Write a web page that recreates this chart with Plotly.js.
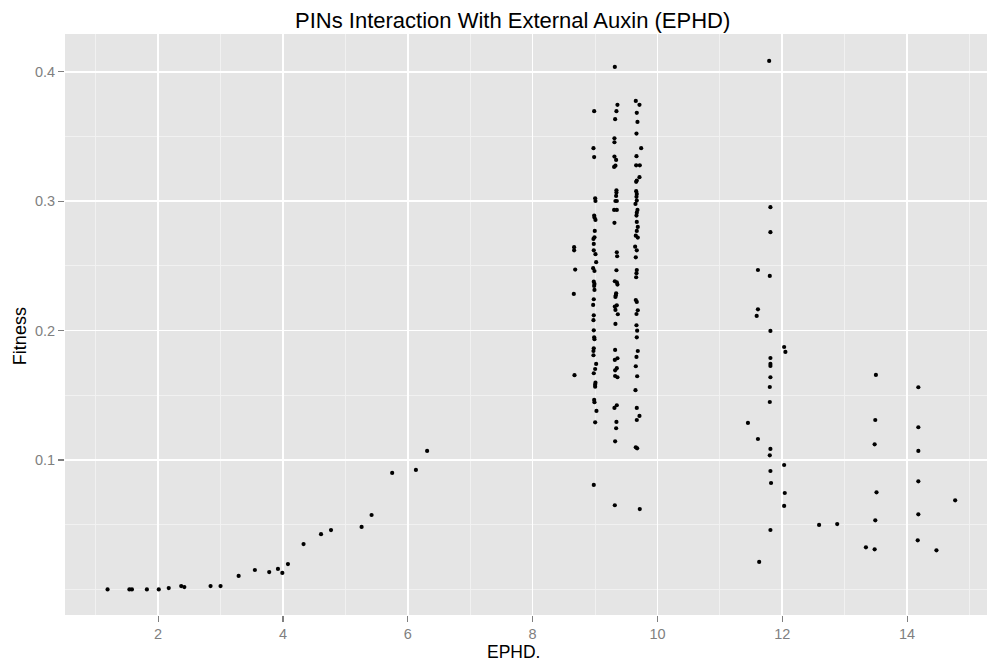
<!DOCTYPE html>
<html>
<head>
<meta charset="utf-8">
<script src="https://cdn.plot.ly/plotly-3.0.1.min.js"></script>
<style>html,body{margin:0;padding:0;background:#fff;}#chart{width:987px;height:664px;}</style>
</head>
<body>
<div id="chart"></div>
<script>
// Low-EPHD curve
const lowX = [1.19,1.54,1.58,1.82,2.01,2.17,2.37,2.42,2.84,3.00,3.29,3.55,3.78,3.92,3.99,4.08,4.33,4.61,4.77,5.26,5.42,5.75,6.13,6.31];
const lowY = [0.000,0.000,0.000,0.000,0.000,0.001,0.0026,0.0018,0.0026,0.0026,0.0104,0.015,0.0134,0.0158,0.0127,0.0196,0.035,0.0427,0.0458,0.0483,0.0575,0.090,0.0923,0.107];

// Column near 8.67
const c87X = [8.665,8.665,8.682,8.660,8.671];
const c87Y = [0.2644,0.2620,0.2471,0.2283,0.1655];

// Column near 9.0
const c90X = [8.986,8.975,8.986,9.002,9.007,8.986,8.991,9.007,8.996,8.991,8.975,8.980,8.980,9.007,9.018,8.970,8.991,8.980,8.991,8.986,8.991,8.980,8.970,8.980,8.975,8.980,8.986,8.991,8.980,8.975,8.975,9.018,9.002,8.980,9.007,9.002,9.002,8.986,8.991,9.023,9.002,8.980];
const c90Y = [0.3695,0.3409,0.3340,0.3022,0.3001,0.2888,0.2873,0.2855,0.2770,0.2721,0.2708,0.2669,0.2620,0.2590,0.2528,0.2482,0.2460,0.2378,0.2360,0.2345,0.2314,0.2242,0.2198,0.2118,0.2080,0.2002,0.1948,0.1933,0.1863,0.1842,0.1809,0.1742,0.1703,0.1670,0.1597,0.1582,0.1566,0.1464,0.1446,0.1379,0.1291,0.0807];

// Column near 9.33
const c93X = [9.317,9.359,9.343,9.322,9.311,9.311,9.311,9.338,9.327,9.306,9.343,9.343,9.338,9.327,9.349,9.306,9.349,9.311,9.349,9.354,9.343,9.317,9.349,9.359,9.338,9.333,9.327,9.349,9.317,9.327,9.365,9.327,9.322,9.359,9.317,9.349,9.322,9.322,9.359,9.349,9.311,9.343,9.338,9.322,9.317];
const c93Y = [0.4037,0.3744,0.3695,0.3633,0.3486,0.3455,0.3344,0.3318,0.3274,0.3264,0.3084,0.3066,0.3040,0.3001,0.3001,0.2932,0.2932,0.2832,0.2605,0.2574,0.2466,0.2381,0.2373,0.2355,0.2288,0.2273,0.2260,0.2195,0.2185,0.2159,0.2126,0.2051,0.1850,0.1786,0.1773,0.1709,0.1693,0.1649,0.1639,0.1423,0.1402,0.1294,0.1245,0.1144,0.0650];

// Column near 9.66
const c97X = [9.653,9.712,9.669,9.680,9.664,9.739,9.664,9.659,9.717,9.712,9.669,9.659,9.659,9.669,9.664,9.669,9.648,9.680,9.669,9.664,9.669,9.685,9.669,9.653,9.685,9.643,9.669,9.653,9.669,9.664,9.659,9.653,9.669,9.685,9.664,9.664,9.675,9.669,9.685,9.664,9.653,9.675,9.648,9.669,9.712,9.669,9.653,9.675,9.717];
const c97Y = [0.3774,0.3744,0.3682,0.3612,0.3522,0.3409,0.3347,0.3277,0.3277,0.3185,0.3159,0.3149,0.3077,0.3056,0.3033,0.3004,0.2978,0.2932,0.2911,0.2888,0.2839,0.2801,0.2770,0.2733,0.2718,0.2648,0.2620,0.2566,0.2468,0.2443,0.2412,0.2236,0.2221,0.2157,0.2128,0.2041,0.1999,0.1948,0.1842,0.1796,0.1724,0.1647,0.1539,0.1402,0.1340,0.1309,0.1098,0.1090,0.0621];

// Around 11.5 - 12.9
const c118X = [11.79,11.81,11.81,11.61,11.80,11.61,11.59,11.81,12.03,12.05,11.81,11.81,11.81,11.81,11.80,11.80,11.45,11.61,11.81,11.80,12.03,11.81,11.82,12.04,12.03,12.59,12.88,11.81,11.63];
const c118Y = [0.4083,0.2953,0.2760,0.2468,0.2422,0.2164,0.2113,0.1997,0.1873,0.1835,0.1788,0.1742,0.1726,0.1639,0.1564,0.1448,0.1286,0.1162,0.1085,0.1036,0.0961,0.0915,0.0822,0.0745,0.0645,0.0498,0.0505,0.0459,0.0212];

// Around 13.3 - 14.8
const c135X = [13.50,14.18,13.49,14.18,13.48,14.18,14.18,13.51,14.77,14.18,13.49,14.17,13.34,13.48,14.47];
const c135Y = [0.1657,0.1562,0.1309,0.1253,0.1121,0.1070,0.0835,0.0750,0.0688,0.0580,0.0534,0.0379,0.0325,0.0310,0.0302];

const xTicks = [2,4,6,8,10,12,14];
const yTicks = [0.1,0.2,0.3,0.4];
const yTickText = ['0.1','0.2','0.3','0.4'];

const allX = [].concat(lowX, c87X, c90X, c93X, c97X, c118X, c135X);
const allY = [].concat(lowY, c87Y, c90Y, c93Y, c97Y, c118Y, c135Y);

const font = 'Liberation Sans, Arial, Helvetica, sans-serif';

const trace = {
  x: allX, y: allY, type: 'scatter', mode: 'markers',
  marker: {color: '#000000', size: 4.2, line: {width: 0}},
  hoverinfo: 'x+y'
};

const layout = {
  width: 987, height: 664,
  margin: {l: 65, r: 0, t: 34, b: 49, pad: 0},
  paper_bgcolor: '#ffffff',
  plot_bgcolor: '#e5e5e5',
  showlegend: false,
  font: {family: font},
  xaxis: {
    range: [0.508, 15.28],
    tickvals: xTicks, ticktext: xTicks.map(String),
    showgrid: true, gridcolor: '#ffffff', gridwidth: 1.6,
    zeroline: false, showline: false,
    ticks: 'outside', ticklen: 6, tickwidth: 1.2, tickcolor: '#7f7f7f',
    tickfont: {family: font, size: 14.5, color: '#7f7f7f'},
    minor: {tickvals: [1,3,5,7,9,11,13,15], showgrid: true, gridcolor: '#f2f2f2', gridwidth: 0.9, ticks: ''}
  },
  yaxis: {
    range: [-0.01978, 0.42913],
    tickvals: yTicks, ticktext: yTickText,
    showgrid: true, gridcolor: '#ffffff', gridwidth: 1.6,
    zeroline: false, showline: false,
    ticks: 'outside', ticklen: 6, tickwidth: 1.2, tickcolor: '#7f7f7f',
    tickfont: {family: font, size: 14.5, color: '#7f7f7f'},
    minor: {tickvals: [0,0.05,0.15,0.25,0.35], showgrid: true, gridcolor: '#f2f2f2', gridwidth: 0.9, ticks: ''}
  },
  annotations: [
    {text: 'PINs Interaction With External Auxin (EPHD)', xref: 'paper', yref: 'paper',
     x: 0.4859, y: 1.0224, xanchor: 'center', yanchor: 'middle', showarrow: false,
     font: {family: font, size: 22, color: '#000000'}},
    {text: 'EPHD.', xref: 'paper', yref: 'paper',
     x: 0.486, y: -0.064, xanchor: 'center', yanchor: 'middle', showarrow: false,
     font: {family: font, size: 17.5, color: '#000000'}},
    {text: 'Fitness', xref: 'paper', yref: 'paper', textangle: -90,
     x: -0.0488, y: 0.480, xanchor: 'center', yanchor: 'middle', showarrow: false,
     font: {family: font, size: 18, color: '#000000'}}
  ]
};

Plotly.newPlot('chart', [trace], layout, {staticPlot: true, displayModeBar: false});
</script>
</body>
</html>
